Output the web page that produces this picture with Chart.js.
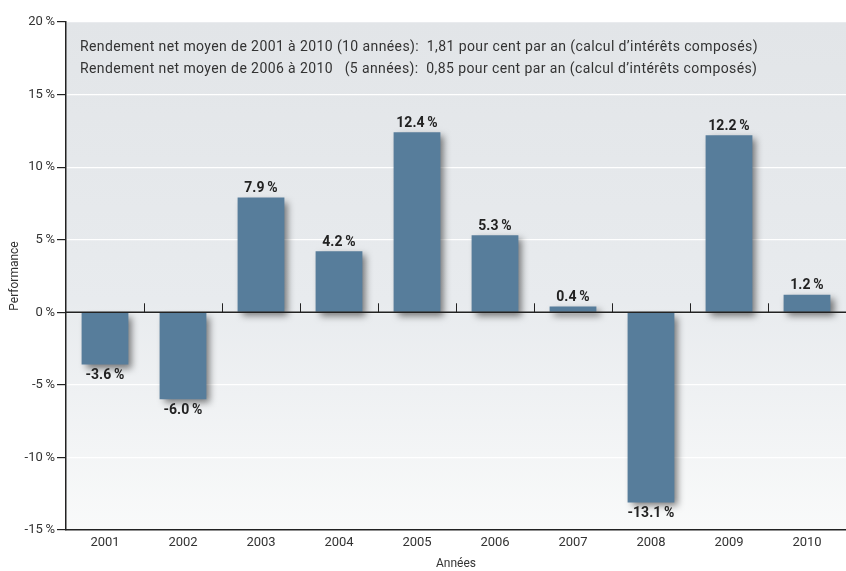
<!DOCTYPE html>
<html>
<head>
<meta charset="utf-8">
<script src="https://cdn.jsdelivr.net/npm/chart.js@4/dist/chart.umd.min.js"></script>
<style>
  body { margin: 0; background: #fff; }
  #wrap { width: 846px; height: 571px; }
</style>
</head>
<body>
<div id="wrap"><canvas id="perf" width="846" height="571"></canvas></div>
<script>
// data
const years = ['2001','2002','2003','2004','2005','2006','2007','2008','2009','2010'];
const performance = [-3.6, -6.0, 7.9, 4.2, 12.4, 5.3, 0.4, -13.1, 12.2, 1.2];
const yTicks = [-15, -10, -5, 0, 5, 10, 15, 20];
const noteLines = [
  'Rendement net moyen de 2001 à 2010 (10 années):  1,81 pour cent par an (calcul d\u2019intérêts composés)',
  'Rendement net moyen de 2006 à 2010   (5 années):  0,85 pour cent par an (calcul d\u2019intérêts composés)'
];

const FONT = 'Roboto, "Noto Sans", sans-serif';
const barColor = '#577d9b';
const dark = '#222';

// gradient behind the plot area
const bgPlugin = {
  id: 'bg',
  beforeDraw(chart) {
    const {ctx, chartArea: a} = chart;
    const g = ctx.createLinearGradient(0, a.top, 0, a.bottom);
    g.addColorStop(0, '#e2e5e8');
    g.addColorStop(0.55, '#e8ebee');
    g.addColorStop(1, '#f9fafa');
    ctx.save();
    ctx.fillStyle = g;
    ctx.fillRect(a.left, a.top, a.right - a.left, a.bottom - a.top);
    ctx.restore();
  }
};

// drop shadow on the bars
const shadowPlugin = {
  id: 'shadow',
  beforeDatasetsDraw(chart) {
    const ctx = chart.ctx;
    ctx.save();
    ctx.shadowColor = 'rgba(0,0,0,0.5)';
    ctx.shadowBlur = 7;
    ctx.shadowOffsetX = 4;
    ctx.shadowOffsetY = 4;
  },
  afterDatasetsDraw(chart) {
    chart.ctx.restore();
  }
};

// zero line ticks, value labels, note text
const extrasPlugin = {
  id: 'extras',
  afterDatasetsDraw(chart) {
    const {ctx, chartArea: a, scales} = chart;
    const y0 = scales.y.getPixelForValue(0);
    ctx.save();
    // zero line
    ctx.strokeStyle = dark;
    ctx.lineWidth = 1.5;
    ctx.beginPath();
    ctx.moveTo(a.left, y0);
    ctx.lineTo(a.right, y0);
    ctx.stroke();
    // small ticks between categories
    ctx.lineWidth = 1;
    const step = (a.right - a.left) / years.length;
    for (let i = 1; i < years.length; i++) {
      const x = Math.round(a.left + step * i) + 0.5;
      ctx.beginPath();
      ctx.moveTo(x, y0 - 9);
      ctx.lineTo(x, y0);
      ctx.stroke();
    }
    // value labels
    ctx.fillStyle = dark;
    ctx.font = 'bold 14px ' + FONT;
    ctx.textAlign = 'center';
    const meta = chart.getDatasetMeta(0);
    meta.data.forEach((bar, i) => {
      const v = performance[i];
      const txt = v.toFixed(1) + '\u2009%';
      if (v >= 0) {
        ctx.textBaseline = 'bottom';
        ctx.fillText(txt, bar.x, bar.y - 2);
      } else {
        ctx.textBaseline = 'top';
        ctx.fillText(txt, bar.x, bar.y + 4);
      }
    });
    // note
    ctx.font = '14px ' + FONT;
    ctx.letterSpacing = '0.4px';
    ctx.fillStyle = '#333';
    ctx.textAlign = 'left';
    ctx.textBaseline = 'middle';
    noteLines.forEach((t, i) => ctx.fillText(t, a.left + 14, 47 + i * 22));
    ctx.restore();
  }
};

new Chart(document.getElementById('perf'), {
  type: 'bar',
  data: {
    labels: years,
    datasets: [{
      data: performance,
      backgroundColor: barColor,
      borderWidth: 0,
      barPercentage: 0.6,
      categoryPercentage: 1
    }]
  },
  options: {
    responsive: false,
    animation: false,
    layout: { padding: { top: 22, right: 0, left: 8, bottom: 0 } },
    plugins: { legend: { display: false }, tooltip: { enabled: false } },
    scales: {
      x: {
        grid: { display: false, drawTicks: false },
        border: { color: dark, width: 1.5 },
        ticks: { color: '#333', font: { family: FONT, size: 13 }, padding: 5 },
        title: { display: true, text: 'Années', color: '#333', font: { family: FONT, size: 12 }, padding: { top: 3, bottom: 0 } },
        afterFit(s) { s.height = 41; }
      },
      y: {
        min: -15,
        max: 20,
        afterBuildTicks(s) { s.ticks = yTicks.map(v => ({ value: v })); },
        grid: { color: '#ffffff', lineWidth: 1.2, tickColor: dark, tickLength: 9 },
        border: { color: dark, width: 1.5 },
        ticks: {
          color: '#333',
          font: { family: FONT, size: 13 },
          padding: 2,
          callback: v => v + '\u2009%'
        },
        title: { display: true, text: 'Performance', color: '#333', font: { family: FONT, size: 12 }, padding: { top: 0, bottom: 4 } },
        afterFit(s) { s.width = 58; }
      }
    }
  },
  plugins: [bgPlugin, shadowPlugin, extrasPlugin]
});
</script>
</body>
</html>
